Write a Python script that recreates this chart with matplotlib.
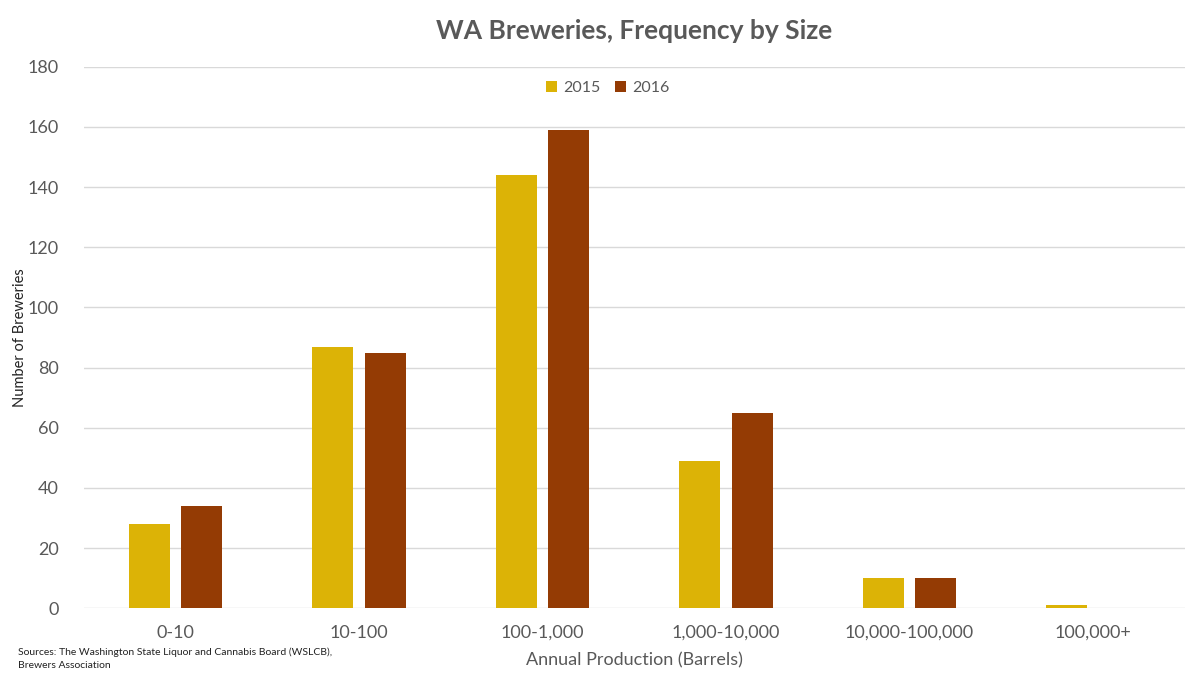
import numpy as np
import matplotlib
matplotlib.use("Agg")
import matplotlib.pyplot as plt

plt.rcParams['font.family'] = ['Lato', 'DejaVu Sans']

categories = ["0-10", "10-100", "100-1,000", "1,000-10,000", "10,000-100,000", "100,000+"]
breweries_2015 = [28, 87, 144, 49, 10, 1]
breweries_2016 = [34, 85, 159, 65, 10, 0]

grey = "#595959"

fig = plt.figure(figsize=(12, 6.75), dpi=100)
ax = fig.add_axes([0.0698, 0.099, 0.9175, 0.802])

x = np.arange(len(categories))
w = 0.224
ax.bar(x - 0.143, breweries_2015, w, color="#DCB306", label="2015", zorder=3)
ax.bar(x + 0.143, breweries_2016, w, color="#943B04", label="2016", zorder=3)

ax.set_xlim(-0.5, len(categories) - 0.5)
ax.set_ylim(0, 180)
ax.set_yticks(range(0, 181, 20))
ax.yaxis.grid(True, color="#D9D9D9", linewidth=1, zorder=0)
for s in ax.spines.values():
    s.set_visible(False)
ax.tick_params(axis="both", length=0, colors=grey, labelsize=13)
ax.tick_params(axis="y", pad=18)
ax.tick_params(axis="x", pad=12)
ax.set_xticks(x)
ax.set_xticklabels(categories)

ax.set_xlabel("Annual Production (Barrels)", color=grey, fontsize=13, labelpad=8)
ax.set_ylabel("Number of Breweries", color="#222222", fontsize=10.5)
ax.yaxis.set_label_coords(-0.052, 0.5)

ax.set_title("WA Breweries, Frequency by Size", color=grey, fontsize=19,
             fontweight="bold", pad=20)

leg = ax.legend(loc="upper center", bbox_to_anchor=(0.476, 1.0), ncol=2, frameon=False,
                fontsize=11.5, handlelength=0.7, handleheight=0.7, handletextpad=0.4,
                columnspacing=0.9)
for t in leg.get_texts():
    t.set_color(grey)

fig.text(0.015, 0.008, "Sources: The Washington State Liquor and Cannabis Board (WSLCB),\nBrewers Association",
         fontsize=7.5, color="#222222", va="bottom", linespacing=1.5)

fig.savefig("out.png", dpi=100)
